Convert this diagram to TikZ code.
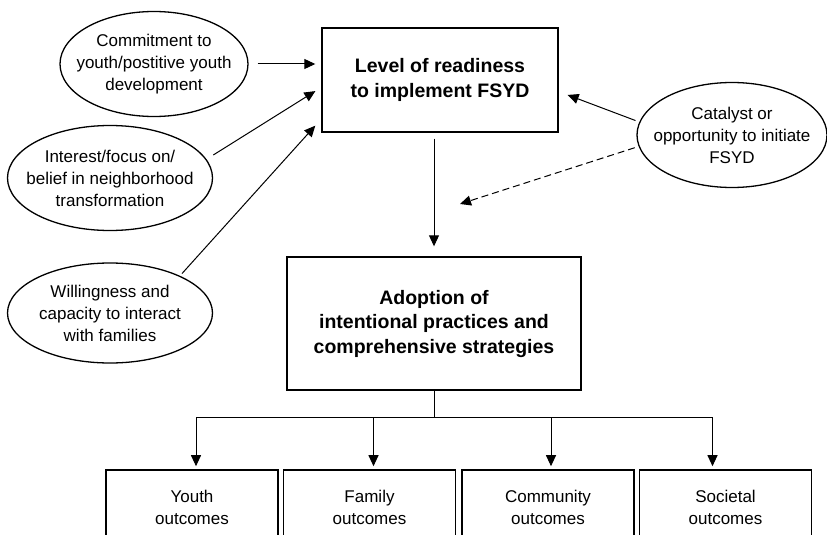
\documentclass[tikz,border=0pt]{standalone}
\usepackage{fontspec}
\setmainfont{Liberation Sans}
\usetikzlibrary{arrows.meta,positioning,shapes.geometric,calc}
\tikzset{
bubble/.style={draw, ellipse, line width=1.3pt, inner sep=0pt, minimum width=#1, minimum height=105pt},
bubble/.default=205pt,
bubbletext/.style={align=center, inner sep=0pt, font=\fontsize{17}{22}\selectfont},
stagebox/.style={draw, line width=1.4pt, align=center, inner sep=0pt, font=\bfseries\fontsize{19.5}{24.5}\selectfont},
outcomebox/.style={draw, line width=1.6pt, align=center, inner sep=0pt, minimum width=172pt, minimum height=75pt, font=\fontsize{17}{22}\selectfont},
arr/.style={-{Triangle[length=11pt,width=10pt]}, line width=1pt},
}

\begin{document}
\begin{tikzpicture}[x=1pt,y=-1pt]
\useasboundingbox (0,0) rectangle (827,535);
\clip (0,0) rectangle (827,535);

% stages
\node[stagebox, minimum width=236pt, minimum height=104pt] (readiness) at (440,80) {Level of readiness\\to implement FSYD};
\node[stagebox, minimum width=294pt, minimum height=133pt] (adoption) at (434,323.5) {Adoption of\\intentional practices and\\comprehensive strategies};

% influences
\node[bubble=188pt, label={[bubbletext]center:Commitment to\\youth/postitive youth\\development}] (commit) at (154,64) {};
\node[bubble, label={[bubbletext]center:Interest/focus on/\\belief in neighborhood\\transformation}] (interest) at (110,178) {};
\node[bubble, minimum height=100pt, label={[bubbletext]center:Willingness and\\capacity to interact\\with families}] (willing) at (110,313) {};
\node[bubble=190pt, label={[bubbletext]center:Catalyst or\\opportunity to initiate\\FSYD}] (catalyst) at (732,135) {};

% outcomes
\node[outcomebox] (youth) at (192,507.5) {Youth\\outcomes};
\node[outcomebox] (family) at (369.5,507.5) {Family\\outcomes};
\node[outcomebox] (community) at (548,507.5) {Community\\outcomes};
\node[outcomebox] (societal) at (725.5,507.5) {Societal\\outcomes};

% arrows into readiness
\draw[arr, shorten <=9pt, shorten >=6pt] (commit.east) -- (commit.east -| readiness.west);
\draw[arr, shorten <=8pt, shorten >=7pt] (interest.11) -- ($(readiness.north west)!0.57!(readiness.south west)$);
\draw[arr, shorten <=3pt, shorten >=9pt] (willing.28) -- ($(readiness.north west)!0.87!(readiness.south west)$);
\draw[arr, shorten <=4pt, shorten >=9.5pt] (catalyst.172) -- ($(readiness.north east)!0.61!(readiness.south east)$);
\coordinate (dashtip) at (460,204);
\draw[arr, dash pattern=on 7pt off 4pt, shorten <=4pt] (catalyst.187) -- (dashtip);
\draw[arr, shorten <=6pt, shorten >=10pt] (readiness.south -| adoption.north) -- (adoption.north);

% branching to outcomes
\coordinate (bus) at (434,417);
\draw[line width=1pt] (adoption.south) -- (adoption.south |- bus);
\draw[line width=1pt] ([xshift=4pt]youth.north |- bus) -- ([xshift=-13pt]societal.north |- bus);
\foreach \o/\dx in {youth/4, family/4, community/3, societal/-13}
  \draw[arr, shorten >=3pt] ([xshift=\dx pt]\o.north |- bus) -- ([xshift=\dx pt]\o.north);
\end{tikzpicture}
\end{document}
